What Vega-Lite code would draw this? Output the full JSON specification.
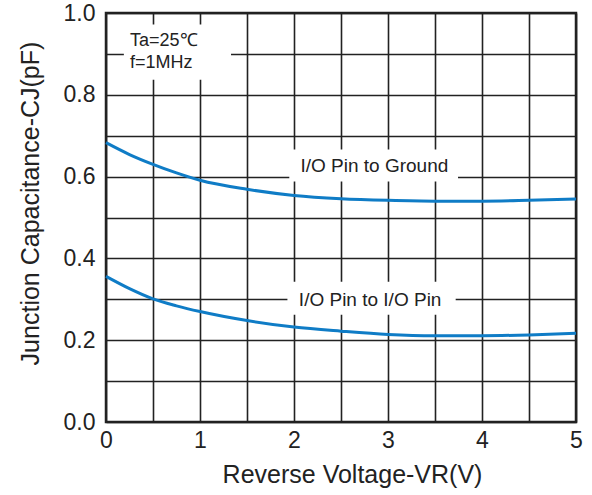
{
  "$schema": "https://vega.github.io/schema/vega-lite/v6.json",
  "width": 470,
  "height": 409,
  "autosize": {"type": "none"},
  "padding": {"left": 106, "top": 13, "right": 16, "bottom": 73},
  "background": "white",
  "config": {
    "font": "Liberation Sans",
    "view": {"stroke": "#222222", "strokeWidth": 2.5},
    "axis": {"domain": false, "ticks": false, "grid": true, "gridColor": "#222222", "gridWidth": 1.6, "gridOpacity": 1,
      "labelFont": "Liberation Sans", "labelFontSize": 23, "labelColor": "#222222",
      "titleFont": "Liberation Sans", "titleFontSize": 25, "titleFontWeight": "normal", "titleColor": "#222222"}
  },
  "datasets": {
    "curves": [
      {"v": 0, "c": 0.683, "s": "Ground"}, {"v": 0.25, "c": 0.654, "s": "Ground"}, {"v": 0.5, "c": 0.630, "s": "Ground"},
      {"v": 0.75, "c": 0.609, "s": "Ground"}, {"v": 1, "c": 0.591, "s": "Ground"}, {"v": 1.5, "c": 0.569, "s": "Ground"},
      {"v": 2, "c": 0.554, "s": "Ground"}, {"v": 2.5, "c": 0.546, "s": "Ground"}, {"v": 3, "c": 0.542, "s": "Ground"},
      {"v": 3.5, "c": 0.540, "s": "Ground"}, {"v": 4, "c": 0.540, "s": "Ground"}, {"v": 4.5, "c": 0.542, "s": "Ground"},
      {"v": 5, "c": 0.545, "s": "Ground"},
      {"v": 0, "c": 0.356, "s": "Pin"}, {"v": 0.25, "c": 0.326, "s": "Pin"}, {"v": 0.5, "c": 0.301, "s": "Pin"},
      {"v": 0.75, "c": 0.284, "s": "Pin"}, {"v": 1, "c": 0.270, "s": "Pin"}, {"v": 1.5, "c": 0.248, "s": "Pin"},
      {"v": 2, "c": 0.232, "s": "Pin"}, {"v": 2.5, "c": 0.222, "s": "Pin"}, {"v": 3, "c": 0.214, "s": "Pin"},
      {"v": 3.5, "c": 0.211, "s": "Pin"}, {"v": 4, "c": 0.211, "s": "Pin"}, {"v": 4.5, "c": 0.213, "s": "Pin"},
      {"v": 5, "c": 0.217, "s": "Pin"}
    ],
    "boxes": [
      {"x1": 0.19, "x2": 1.33, "y1": 0.837, "y2": 0.972},
      {"x1": 1.95, "x2": 3.745, "y1": 0.588, "y2": 0.666},
      {"x1": 1.93, "x2": 3.72, "y1": 0.262, "y2": 0.343}
    ],
    "centered": [
      {"x": 2.855, "y": 0.625, "t": "I/O Pin to Ground"},
      {"x": 2.81, "y": 0.299, "t": "I/O Pin to I/O Pin"}
    ],
    "cond": [
      {"x": 0.255, "y": 0.931, "t": "Ta=25℃"},
      {"x": 0.255, "y": 0.878, "t": "f=1MHz"}
    ]
  },
  "layer": [
    {
      "data": {"name": "boxes"},
      "mark": {"type": "rect", "fill": "white", "stroke": null},
      "encoding": {
        "x": {"field": "x1", "type": "quantitative", "scale": {"domain": [0, 5], "nice": false, "zero": false},
          "axis": {"values": [0, 0.5, 1, 1.5, 2, 2.5, 3, 3.5, 4, 4.5, 5], "format": "~g", "labelExpr": "datum.value % 1 === 0 ? datum.label : ''",
            "labelPadding": 7, "title": "Reverse Voltage-VR(V)", "titlePadding": 10, "titleX": 246, "labelFlush": false}},
        "x2": {"field": "x2"},
        "y": {"field": "y1", "type": "quantitative", "scale": {"domain": [0, 1], "nice": false},
          "axis": {"values": [0, 0.1, 0.2, 0.3, 0.4, 0.5, 0.6, 0.7, 0.8, 0.9, 1.0], "format": ".1f",
            "labelExpr": "round(datum.value * 10) % 2 === 0 ? datum.label : ''",
            "labelPadding": 11, "title": "Junction Capacitance-CJ(pF)", "titlePadding": 20, "titleY": 190, "labelFlush": false}},
        "y2": {"field": "y2"}
      }
    },
    {
      "data": {"name": "curves"},
      "mark": {"type": "line", "color": "#0f7cc6", "strokeWidth": 3, "interpolate": "monotone"},
      "encoding": {
        "x": {"field": "v", "type": "quantitative"},
        "y": {"field": "c", "type": "quantitative"},
        "detail": {"field": "s"}
      }
    },
    {
      "data": {"name": "centered"},
      "mark": {"type": "text", "fontSize": 19, "color": "#222222", "align": "center", "baseline": "middle"},
      "encoding": {
        "x": {"field": "x", "type": "quantitative"},
        "y": {"field": "y", "type": "quantitative"},
        "text": {"field": "t"}
      }
    },
    {
      "data": {"name": "cond"},
      "mark": {"type": "text", "fontSize": 18, "color": "#222222", "align": "left", "baseline": "middle"},
      "encoding": {
        "x": {"field": "x", "type": "quantitative"},
        "y": {"field": "y", "type": "quantitative"},
        "text": {"field": "t"}
      }
    }
  ]
}
